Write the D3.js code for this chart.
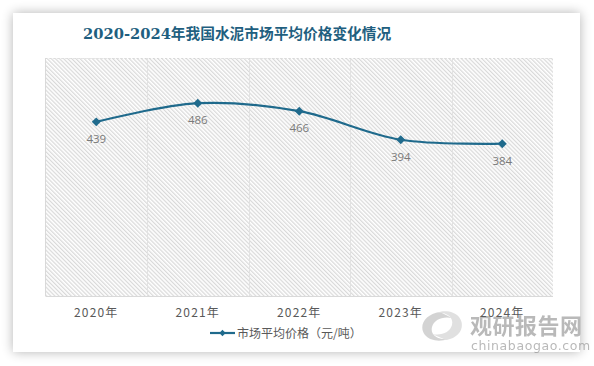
<!DOCTYPE html>
<html><head><meta charset="utf-8">
<script src="https://cdn.jsdelivr.net/npm/d3@7/dist/d3.min.js"></script>
<style>
html,body{margin:0;padding:0;background:#fff;}
svg{display:block;}
</style></head>
<body>
<svg id="c" width="594" height="366"></svg>
<script>
const categories = ["2020年","2021年","2022年","2023年","2024年"];
const values = [439, 486, 466, 394, 384];
const seriesName = "市场平均价格（元/吨）";
const title = "2020-2024年我国水泥市场平均价格变化情况";
const yDomain = [0, 600];

const svg = d3.select("#c");
const defs = svg.append("defs");
const f = defs.append("filter").attr("id","sh").attr("x","-10%").attr("y","-10%").attr("width","120%").attr("height","120%");
f.append("feGaussianBlur").attr("in","SourceAlpha").attr("stdDeviation",6);
f.append("feComponentTransfer").append("feFuncA").attr("type","linear").attr("slope",0.3);
const m = f.append("feMerge"); m.append("feMergeNode"); m.append("feMergeNode").attr("in","SourceGraphic");

const pat = defs.append("pattern").attr("id","hatch").attr("patternUnits","userSpaceOnUse")
  .attr("width",2.9).attr("height",2.9).attr("patternTransform","rotate(-45)");
pat.append("line").attr("x1",0.7).attr("y1",0).attr("x2",0.7).attr("y2",2.9).attr("stroke","#cfcfcf").attr("stroke-width",1);

svg.append("rect").attr("x",0).attr("y",0).attr("width",594).attr("height",366).attr("fill","#fff");
svg.append("rect").attr("x",13).attr("y",13).attr("width",567).attr("height",339).attr("fill","#fff").attr("filter","url(#sh)");

const L = 45.5, R = 553, T = 58, B = 296;
const x = d3.scaleBand().domain(categories).range([L, R]);
const y = d3.scaleLinear().domain(yDomain).range([B, T]);

svg.append("rect").attr("x",L).attr("y",T).attr("width",R-L).attr("height",B-T).attr("fill","url(#hatch)");

svg.append("g").selectAll("line").data(categories.slice(1)).join("line")
  .attr("x1",d=>Math.round(x(d))+0.5).attr("x2",d=>Math.round(x(d))+0.5)
  .attr("y1",T).attr("y2",B).attr("stroke","#e2e2e2").attr("stroke-width",1);
svg.append("line").attr("x1",L).attr("x2",R).attr("y1",T+0.5).attr("y2",T+0.5)
  .attr("stroke","#cfcfcf").attr("stroke-dasharray","1,3");
svg.append("line").attr("x1",L).attr("x2",L).attr("y1",T).attr("y2",B).attr("stroke","#d9d9d9");
svg.append("line").attr("x1",L).attr("x2",R).attr("y1",B+0.5).attr("y2",B+0.5).attr("stroke","#d9d9d9");

svg.append("text").attr("x",83).attr("y",38.5).attr("fill","#1f5f80")
  .attr("font-family","'DejaVu Serif','Noto Sans CJK SC',serif").attr("font-weight","bold")
  .attr("font-size",14.7).text(title);

// watermark
const wm = svg.append("g").attr("opacity",0.55);
wm.append("path").attr("d","M440,312 C425,314 418,326 425,335 C430,341 440,342 448,339 C438,340 430,335 432,327 C434,320 442,316 452,318 Z").attr("fill","#b0b0b0");
wm.append("path").attr("d","M446,340 C460,338 466,326 459,317 C454,311 444,310 436,313 C446,312 454,317 452,325 C450,332 442,336 432,334 Z").attr("fill","#c8c8c8");
wm.append("text").attr("x",470).attr("y",334).attr("font-family","'Noto Sans CJK SC',sans-serif").attr("font-weight","bold")
  .attr("font-size",22).attr("fill","#808080").attr("letter-spacing",0.5).text("观研报告网");
wm.append("text").attr("x",471).attr("y",350).attr("font-family","'DejaVu Sans',sans-serif")
  .attr("font-size",12.5).attr("fill","#808080").attr("letter-spacing",0.6).text("chinabaogao.com");

svg.append("g").selectAll("text").data(categories).join("text")
  .attr("x",d=>x(d)+x.bandwidth()/2).attr("y",317).attr("text-anchor","middle")
  .attr("font-family","'Noto Sans CJK SC',sans-serif").attr("font-size",12).attr("letter-spacing",1.2)
  .attr("fill","#595959").text(d=>d);

const color = "#1f6a8c";
const line = d3.line().x((d,i)=>x(categories[i])+x.bandwidth()/2).y(d=>y(d)).curve(d3.curveCatmullRom.alpha(0.5));
svg.append("path").datum(values).attr("d",line).attr("fill","none").attr("stroke",color).attr("stroke-width",2.2);

const sym = d3.symbol().type(d3.symbolSquare).size(40);
svg.append("g").selectAll("path").data(values).join("path")
  .attr("transform",(d,i)=>`translate(${x(categories[i])+x.bandwidth()/2},${y(d)}) rotate(45)`)
  .attr("d",sym).attr("fill",color);

svg.append("g").selectAll("text").data(values).join("text")
  .attr("x",(d,i)=>x(categories[i])+x.bandwidth()/2).attr("y",d=>y(d)+21).attr("text-anchor","middle")
  .attr("font-family","'Open Sans','Noto Sans',sans-serif").attr("font-size",11.5).attr("fill","#7a7a7a").text(d=>d);

const lg = svg.append("g");
lg.append("line").attr("x1",210).attr("x2",235).attr("y1",333).attr("y2",333).attr("stroke",color).attr("stroke-width",2.2);
lg.append("path").attr("transform","translate(222.5,333) rotate(45)").attr("d",d3.symbol().type(d3.symbolSquare).size(20)).attr("fill",color);
lg.append("text").attr("x",237).attr("y",337.5).attr("font-family","'Noto Sans CJK SC',sans-serif").attr("font-size",12)
  .attr("fill","#595959").text(seriesName);
</script>
</body></html>
